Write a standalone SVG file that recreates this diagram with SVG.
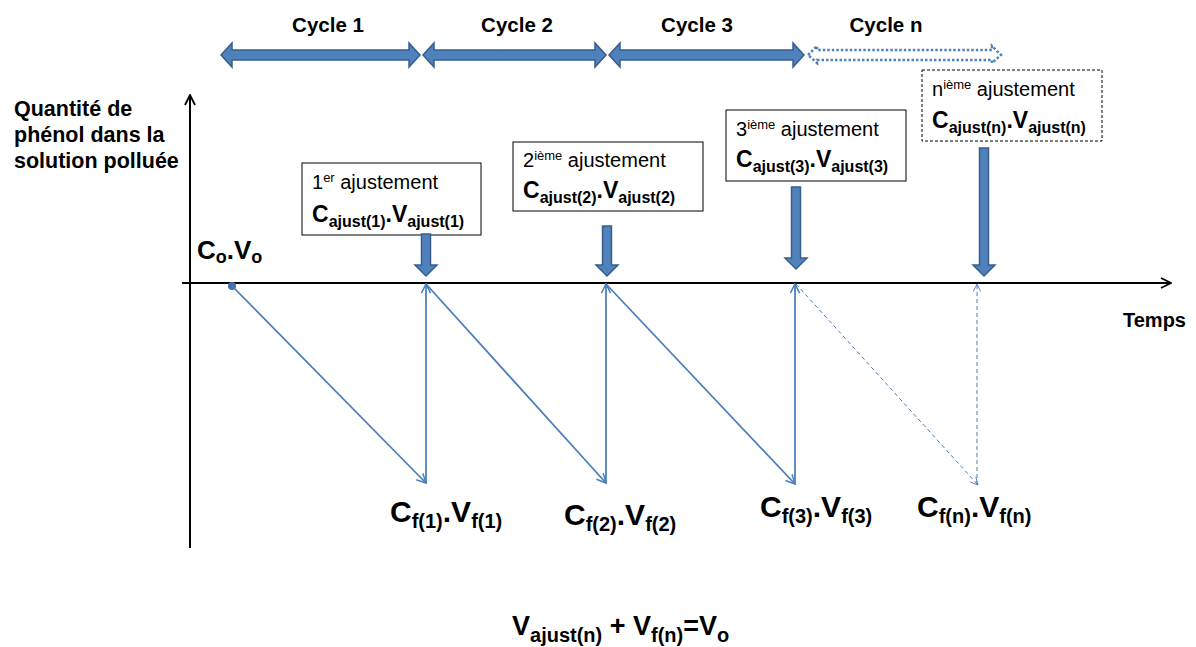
<svg xmlns="http://www.w3.org/2000/svg" width="1196" height="647" viewBox="0 0 1196 647">
<defs>
<style>
text{font-family:"Liberation Sans",Arial,sans-serif;fill:#000}
.b{font-weight:bold}
.axis{stroke:#000;stroke-width:2;fill:none}
.blk{fill:#4f81bd;stroke:#385d8a;stroke-width:1.5}
.dot{fill:none;stroke:#4f81bd;stroke-width:2.5;stroke-dasharray:2.5,2}
.box{fill:#fff;stroke:#000;stroke-width:1}
.dbox{fill:#fff;stroke:#000;stroke-width:1;stroke-dasharray:3,2}
.ln{stroke:#4a7ebb;stroke-width:1.75;fill:none}
.dl{stroke:#4a7ebb;stroke-width:1;fill:none;stroke-dasharray:4,3}
.cyc{font-size:20.5px;font-weight:bold;text-anchor:middle}
.lab{font-size:21.5px;font-weight:bold}
.t1{font-size:20px}
.sup{font-size:13px}
.big{font-size:23px;font-weight:bold}
.sb{font-size:16px;font-weight:bold}
.fl{font-size:30px;font-weight:bold}
.fs{font-size:20px;font-weight:bold}
</style>
<marker id="ah" viewBox="0 0 12 12" refX="11" refY="6" markerWidth="11" markerHeight="11" markerUnits="userSpaceOnUse" orient="auto">
<path d="M1,1 L11,6 L1,11" fill="none" stroke="#4a7ebb" stroke-width="1.6"/>
</marker>
<marker id="ahd" viewBox="0 0 12 12" refX="11" refY="6" markerWidth="9" markerHeight="9" markerUnits="userSpaceOnUse" orient="auto">
<path d="M1,1 L11,6 L1,11" fill="none" stroke="#4a7ebb" stroke-width="1.2"/>
</marker>
<marker id="ak" viewBox="0 0 12 12" refX="11" refY="6" markerWidth="12" markerHeight="12" markerUnits="userSpaceOnUse" orient="auto">
<path d="M1,1 L11,6 L1,11" fill="none" stroke="#000" stroke-width="1.8"/>
</marker>
</defs>
<rect width="1196" height="647" fill="#fff"/>

<g id="axes">
<line class="axis" x1="190" y1="548" x2="190" y2="95" marker-end="url(#ak)"/>
<line class="axis" x1="182" y1="283" x2="1171" y2="283" marker-end="url(#ak)"/>
<text class="lab" x="14" y="116">Quantité de</text>
<text class="lab" x="14" y="142">phénol dans la</text>
<text class="lab" x="14" y="168">solution polluée</text>
<text class="b" font-size="20" x="1123" y="327">Temps</text>
</g>

<g id="cycle1">
<path class="blk" d="M221,55 L232,43 L232,50 L409,50 L409,43 L420,55 L409,67 L409,60 L232,60 L232,67 Z"/>
<text class="cyc" x="328" y="32">Cycle 1</text>
</g>
<g id="cycle2">
<path class="blk" d="M423,55 L434,43 L434,50 L595,50 L595,43 L606,55 L595,67 L595,60 L434,60 L434,67 Z"/>
<text class="cyc" x="517" y="32">Cycle 2</text>
</g>
<g id="cycle3">
<path class="blk" d="M609,55 L620,43 L620,50 L793,50 L793,43 L804,55 L793,67 L793,60 L620,60 L620,67 Z"/>
<text class="cyc" x="697" y="32">Cycle 3</text>
</g>
<g id="cyclen">
<path class="dot" d="M808,55 L817,46 L817,50 L992,50 L992,46 L1001,55 L992,63 L992,60 L817,60 L817,63 Z"/>
<text class="cyc" x="886" y="32">Cycle n</text>
</g>

<g id="adj1">
<rect class="box" x="302" y="163" width="179" height="72"/>
<text class="t1" x="312" y="189">1<tspan class="sup" dy="-7">er</tspan><tspan dy="7"> ajustement</tspan></text>
<text x="312" y="222"><tspan class="big">C</tspan><tspan class="sb" dy="5">ajust(1)</tspan><tspan class="big" dy="-5">.V</tspan><tspan class="sb" dy="5">ajust(1)</tspan></text>
<path class="blk" d="M421.5,234 L430.5,234 L430.5,265 L437,265 L426,276 L415,265 L421.5,265 Z"/>
</g>

<g id="adj2">
<rect class="box" x="513" y="142" width="190" height="69"/>
<text class="t1" x="523" y="167">2<tspan class="sup" dy="-7">ième</tspan><tspan dy="7"> ajustement</tspan></text>
<text x="523" y="198"><tspan class="big">C</tspan><tspan class="sb" dy="5">ajust(2)</tspan><tspan class="big" dy="-5">.V</tspan><tspan class="sb" dy="5">ajust(2)</tspan></text>
<path class="blk" d="M602.5,226 L611.5,226 L611.5,265 L618,265 L607,276 L596,265 L602.5,265 Z"/>
</g>

<g id="adj3">
<rect class="box" x="726" y="110" width="180" height="71"/>
<text class="t1" x="736" y="136">3<tspan class="sup" dy="-7">ième</tspan><tspan dy="7"> ajustement</tspan></text>
<text x="736" y="167"><tspan class="big">C</tspan><tspan class="sb" dy="5">ajust(3)</tspan><tspan class="big" dy="-5">.V</tspan><tspan class="sb" dy="5">ajust(3)</tspan></text>
<path class="blk" d="M791.5,187 L800.5,187 L800.5,258 L807,258 L796,269 L785,258 L791.5,258 Z"/>
</g>

<g id="adjn">
<rect class="dbox" x="922" y="70" width="180" height="71"/>
<text class="t1" x="932" y="96">n<tspan class="sup" dy="-7">ième</tspan><tspan dy="7"> ajustement</tspan></text>
<text x="932" y="128"><tspan class="big">C</tspan><tspan class="sb" dy="5">ajust(n)</tspan><tspan class="big" dy="-5">.V</tspan><tspan class="sb" dy="5">ajust(n)</tspan></text>
<path class="blk" d="M979.5,148 L988.5,148 L988.5,265 L995,265 L984,276 L973,265 L979.5,265 Z"/>
</g>

<g id="start">
<text x="197" y="259"><tspan font-size="26" class="b">C</tspan><tspan font-size="18" class="b" dy="4">o</tspan><tspan font-size="26" class="b" dy="-4">.V</tspan><tspan font-size="18" class="b" dy="4">o</tspan></text>
</g>

<g id="final1">
<text x="390" y="522"><tspan class="fl">C</tspan><tspan class="fs" dy="6">f(1)</tspan><tspan class="fl" dy="-6">.V</tspan><tspan class="fs" dy="6">f(1)</tspan></text>
</g>
<g id="final2">
<text x="564" y="525"><tspan class="fl">C</tspan><tspan class="fs" dy="6">f(2)</tspan><tspan class="fl" dy="-6">.V</tspan><tspan class="fs" dy="6">f(2)</tspan></text>
</g>
<g id="final3">
<text x="760" y="517"><tspan class="fl">C</tspan><tspan class="fs" dy="6">f(3)</tspan><tspan class="fl" dy="-6">.V</tspan><tspan class="fs" dy="6">f(3)</tspan></text>
</g>
<g id="finaln">
<text x="917" y="517"><tspan class="fl">C</tspan><tspan class="fs" dy="6">f(n)</tspan><tspan class="fl" dy="-6">.V</tspan><tspan class="fs" dy="6">f(n)</tspan></text>
</g>

<g id="formula">
<text x="512" y="635"><tspan font-size="27" class="b">V</tspan><tspan font-size="20" class="b" dy="7">ajust(n)</tspan><tspan font-size="27" class="b" dy="-7"> + V</tspan><tspan font-size="20" class="b" dy="7">f(n)</tspan><tspan font-size="27" class="b" dy="-7">=V</tspan><tspan font-size="20" class="b" dy="7">o</tspan></text>
</g>

<g id="connectors">
<circle cx="232" cy="286" r="4" fill="#3f6fae"/>
<line class="ln" x1="232" y1="286" x2="426" y2="483" marker-end="url(#ah)"/>
<line class="ln" x1="426" y1="483" x2="426" y2="284" marker-end="url(#ah)"/>
<line class="ln" x1="426" y1="284" x2="606" y2="483" marker-end="url(#ah)"/>
<line class="ln" x1="606" y1="483" x2="606" y2="284" marker-end="url(#ah)"/>
<line class="ln" x1="606" y1="284" x2="795" y2="484" marker-end="url(#ah)"/>
<line class="ln" x1="795" y1="484" x2="795" y2="284" marker-end="url(#ah)"/>
<line class="dl" x1="796" y1="284" x2="978" y2="485" marker-end="url(#ahd)"/>
<line class="dl" x1="977" y1="485" x2="977" y2="284" marker-end="url(#ahd)"/>
</g>
</svg>
